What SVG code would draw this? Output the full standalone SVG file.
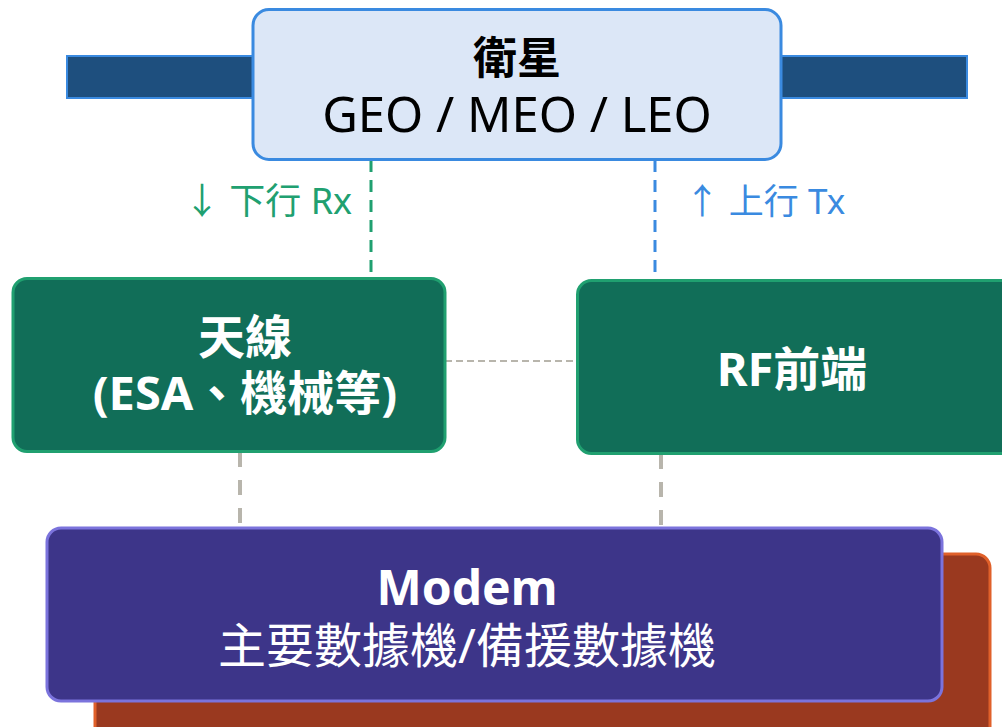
<svg xmlns="http://www.w3.org/2000/svg" width="1002" height="727" viewBox="0 0 1002 727">
<style>
text{font-family:"Noto Sans","Noto Sans CJK TC",sans-serif;text-anchor:middle}
.bar{fill:#1e4f7e;stroke:#3a8ae0;stroke-width:2}
.green{fill:#116e58;stroke:#20a070;stroke-width:3}
.w{fill:#ffffff}
.b{font-weight:bold}
</style>
<rect width="1002" height="727" fill="#ffffff"/>
<g id="connectors" fill="none">
<line x1="371" y1="160" x2="371" y2="278" stroke="#20a070" stroke-width="3" stroke-dasharray="12 8"/>
<line x1="655" y1="160" x2="655" y2="280" stroke="#3a8ae0" stroke-width="3" stroke-dasharray="12 8"/>
<line x1="445" y1="361" x2="577" y2="361" stroke="#b8b5ac" stroke-width="2" stroke-dasharray="7 4"/>
<line x1="240" y1="452" x2="240" y2="527" stroke="#b8b5ac" stroke-width="4" stroke-dasharray="15 13"/>
<line x1="661" y1="454" x2="661" y2="527" stroke="#b8b5ac" stroke-width="4" stroke-dasharray="15 13"/>
<text x="268" y="214" font-size="36" fill="#20a070">↓ 下行 Rx</text>
<text x="765" y="214" font-size="35" fill="#3a8ae0">↑ 上行 Tx</text>
</g>
<g id="satellite">
<rect class="bar" x="67" y="56" width="186" height="42"/>
<rect class="bar" x="781" y="56" width="186" height="42"/>
<rect x="253" y="9.5" width="528" height="150" rx="16" fill="#dce7f7" stroke="#3a8ae0" stroke-width="3"/>
<text fill="#000"><tspan x="517" y="74" font-size="44" class="b">衛星</tspan><tspan x="517" y="132" font-size="49">GEO / MEO / LEO</tspan></text>
</g>
<g id="antenna">
<rect class="green" x="13" y="278.5" width="432" height="173" rx="14"/>
<text font-size="47" class="b w"><tspan x="245" y="354">天線</tspan><tspan x="245" y="410">(ESA、機械等)</tspan></text>
</g>
<g id="rf">
<rect class="green" x="577.5" y="280.5" width="440" height="173" rx="14"/>
<text x="792" y="386" font-size="47" class="b w">RF前端</text>
</g>
<g id="modem">
<rect x="95" y="554" width="895" height="190" rx="14" fill="#9a391f" stroke="#e0602a" stroke-width="3"/>
<rect x="47" y="528" width="895" height="173" rx="14" fill="#3d3589" stroke="#7b73dc" stroke-width="3"/>
<text font-size="48" class="w"><tspan x="467" y="605" class="b">Modem</tspan><tspan x="467" y="663">主要數據機/備援數據機</tspan></text>
</g>
</svg>
